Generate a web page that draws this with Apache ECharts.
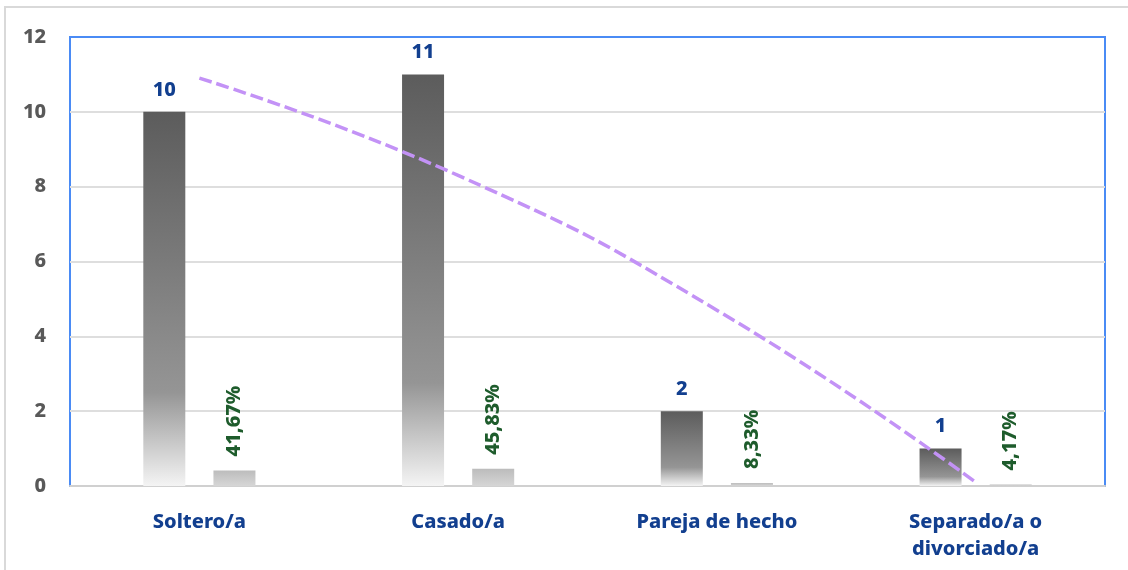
<!DOCTYPE html>
<html>
<head>
<meta charset="utf-8">
<script src="https://cdn.jsdelivr.net/npm/echarts@6/dist/echarts.min.js"></script>
<style>
  html, body { margin: 0; padding: 0; background: #fff; }
  #chart-container { width: 1128px; height: 570px; }
</style>
</head>
<body>
<div id="chart-container"></div>
<script>
const categorias = ['Soltero/a', 'Casado/a', 'Pareja de hecho', 'Separado/a o\ndivorciado/a'];
const frecuencias = [10, 11, 2, 1];
const porcentajes = [0.4167, 0.4583, 0.0833, 0.0417];
const etiquetasPct = ['41,67%', '45,83%', '8,33%', '4,17%'];
// linea de tendencia
const tendencia = [10.9, 8.3, 4.7, 0.1];
const ticksY = [0, 2, 4, 6, 8, 10, 12];

let myChart = echarts.init(document.getElementById('chart-container'), null, {
  renderer: 'canvas'
});

const fuente = '"Noto Sans", "Open Sans", sans-serif';
// la ultima linea (12) coincide con el borde azul
const coloresRejilla = ticksY.map((t, i) => i === ticksY.length - 1 ? '#4a8bf5' : '#dedede');

const opciones = {
  animation: false,
  graphic: [{
    type: 'rect',
    shape: { x: 5, y: 7, width: 1200, height: 700 },
    style: { fill: 'none', stroke: '#d9d9d9', lineWidth: 2 },
    z: -10
  }],
  grid: {
    left: 70, top: 37, right: 23, bottom: 84,
    show: true,
    borderColor: '#4a8bf5',
    borderWidth: 2
  },
  xAxis: {
    type: 'category',
    data: categorias,
    axisLine: { lineStyle: { color: '#d0d0d0', width: 2 } },
    axisTick: { show: false },
    axisLabel: {
      color: '#123f8f',
      fontFamily: fuente,
      fontWeight: 800,
      fontSize: 20,
      margin: 23,
      lineHeight: 27
    }
  },
  yAxis: {
    type: 'value',
    min: ticksY[0],
    max: ticksY[ticksY.length - 1],
    interval: 2,
    axisLine: { show: false },
    axisTick: { show: false },
    splitLine: { lineStyle: { color: coloresRejilla, width: 2 } },
    axisLabel: {
      color: '#595959',
      fontFamily: fuente,
      fontWeight: 800,
      fontSize: 20,
      margin: 24
    }
  },
  series: [
    {
      name: 'Frecuencia',
      type: 'bar',
      data: frecuencias,
      barWidth: 42,
      barGap: '67%',
      itemStyle: {
        color: new echarts.graphic.LinearGradient(0, 0, 0, 1, [
          { offset: 0, color: '#5c5c5c' },
          { offset: 0.75, color: '#959595' },
          { offset: 1, color: '#f4f4f4' }
        ])
      },
      label: {
        show: true,
        position: 'top',
        distance: 12,
        color: '#123f8f',
        fontFamily: fuente,
        fontWeight: 800,
        fontSize: 20
      }
    },
    {
      name: 'Porcentaje',
      type: 'bar',
      data: porcentajes,
      barWidth: 42,
      itemStyle: {
        color: new echarts.graphic.LinearGradient(0, 0, 0, 1, [
          { offset: 0, color: '#bcbcbc' },
          { offset: 1, color: '#d6d6d6' }
        ])
      },
      label: {
        show: true,
        position: 'top',
        distance: 14,
        rotate: 90,
        align: 'left',
        verticalAlign: 'middle',
        color: '#1e5c2c',
        fontFamily: fuente,
        fontWeight: 800,
        fontSize: 20,
        formatter: (p) => etiquetasPct[p.dataIndex]
      }
    },
    {
      name: 'Tendencia',
      type: 'line',
      data: tendencia,
      smooth: true,
      symbol: 'none',
      z: 5,
      lineStyle: { color: '#c392f6', width: 3.5, type: [13, 5] }
    }
  ]
};

myChart.setOption(opciones);
window.addEventListener('resize', myChart.resize);
</script>
</body>
</html>
